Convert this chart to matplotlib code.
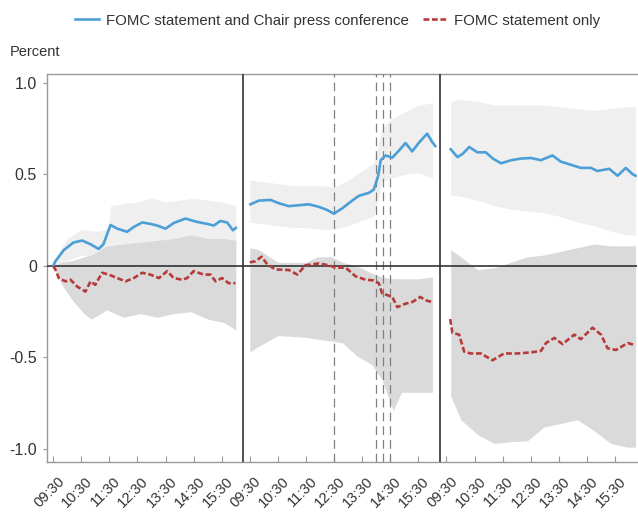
import numpy as np
import matplotlib
matplotlib.use("Agg")
import matplotlib.pyplot as plt
import matplotlib.transforms as mtransforms
from matplotlib.lines import Line2D

plt.rcParams['font.family'] = ['Liberation Sans', 'DejaVu Sans']

# hours after 09:30 in each trading day panel
hour_labels = ["09:30", "10:30", "11:30", "12:30", "13:30", "14:30", "15:30"]
event_times = [3.0, 4.5, 4.75, 5.0]   # 12:30, 14:00, 14:15, 14:30 on the FOMC day

# --- day before ---
p1_blue_t = [0.0, 0.08, 0.38, 0.72, 1.03, 1.33, 1.62, 1.79, 2.04, 2.28, 2.63, 2.87, 3.17, 3.46,
             3.70, 4.00, 4.29, 4.71, 5.12, 5.48, 5.72, 5.95, 6.19, 6.40, 6.50]
p1_blue = [0.0, 0.026, 0.087, 0.128, 0.139, 0.119, 0.093, 0.119, 0.224, 0.204, 0.187, 0.213, 0.238,
           0.230, 0.221, 0.204, 0.235, 0.259, 0.241, 0.230, 0.221, 0.246, 0.238, 0.195, 0.208]
p1_red_t = [0.0, 0.08, 0.2, 0.44, 0.62, 0.85, 1.15, 1.33, 1.5, 1.74, 1.98, 2.28, 2.57, 2.87, 3.17,
            3.46, 3.76, 4.06, 4.29, 4.59, 4.77, 5.0, 5.36, 5.6, 5.78, 6.01, 6.25, 6.49]
p1_red = [0.0, -0.02, -0.066, -0.084, -0.075, -0.112, -0.14, -0.084, -0.103, -0.037, -0.047, -0.066,
          -0.084, -0.066, -0.037, -0.047, -0.066, -0.028, -0.066, -0.075, -0.066, -0.028, -0.047,
          -0.047, -0.084, -0.066, -0.094, -0.094]
p1_light_t = [0.0, 0.5, 1.0, 1.5, 1.95, 2.05, 2.5, 3.0, 3.5, 4.0, 4.5, 5.0, 5.5, 6.0, 6.5]
p1_light_hi = [0.02, 0.15, 0.20, 0.19, 0.20, 0.33, 0.34, 0.35, 0.37, 0.35, 0.36, 0.37, 0.36, 0.35, 0.33]
p1_light_lo = [0.0, 0.03, 0.06, 0.05, 0.05, 0.12, 0.10, 0.11, 0.11, 0.10, 0.12, 0.12, 0.10, 0.12, 0.10]
p1_dark_t = [0.0, 0.3, 0.7, 1.1, 1.35, 1.6, 1.9, 2.5, 3.1, 3.7, 4.3, 4.9, 5.5, 6.1, 6.5]
p1_dark_hi = [0.0, 0.02, 0.03, 0.05, 0.06, 0.08, 0.11, 0.12, 0.13, 0.14, 0.15, 0.17, 0.15, 0.15, 0.14]
p1_dark_lo = [0.0, -0.10, -0.19, -0.26, -0.29, -0.27, -0.24, -0.28, -0.26, -0.28, -0.26, -0.25,
              -0.29, -0.31, -0.35]

# --- FOMC day ---
p2_blue_t = [0.02, 0.32, 0.74, 1.03, 1.39, 1.74, 2.10, 2.46, 2.75, 2.99, 3.29, 3.64, 3.88, 4.24,
             4.41, 4.57, 4.66, 4.83, 5.07, 5.30, 5.54, 5.78, 6.01, 6.31, 6.48, 6.60]
p2_blue = [0.337, 0.357, 0.361, 0.343, 0.327, 0.332, 0.337, 0.323, 0.306, 0.286, 0.315, 0.357, 0.383,
           0.400, 0.417, 0.493, 0.578, 0.604, 0.592, 0.629, 0.672, 0.626, 0.672, 0.723, 0.680, 0.655]
p2_red_t = [0.0, 0.2, 0.42, 0.62, 0.91, 1.39, 1.69, 1.98, 2.46, 2.81, 3.05, 3.41, 3.76, 4.12, 4.41,
            4.59, 4.71, 4.89, 5.07, 5.25, 5.54, 5.78, 6.07, 6.25, 6.48]
p2_red = [0.02, 0.026, 0.051, 0.009, -0.019, -0.022, -0.047, 0.004, 0.014, 0.004, -0.009, -0.009,
          -0.056, -0.075, -0.079, -0.094, -0.15, -0.159, -0.169, -0.225, -0.206, -0.197, -0.169,
          -0.187, -0.197]
p2_light_t = [0.0, 0.5, 1.0, 1.5, 2.0, 2.5, 3.0, 3.5, 4.0, 4.4, 4.6, 4.7, 5.0, 5.5, 6.0, 6.5]
p2_light_hi = [0.47, 0.46, 0.45, 0.44, 0.44, 0.44, 0.43, 0.47, 0.52, 0.56, 0.68, 0.75, 0.80, 0.84,
               0.88, 0.89]
p2_light_lo = [0.24, 0.23, 0.22, 0.21, 0.21, 0.20, 0.20, 0.22, 0.25, 0.27, 0.38, 0.46, 0.48, 0.50,
               0.51, 0.48]
p2_dark_t = [0.0, 0.3, 1.0, 2.0, 2.4, 2.9, 3.3, 3.8, 4.35, 4.7, 5.1, 5.4, 6.0, 6.5]
p2_dark_hi = [0.10, 0.09, 0.02, 0.02, 0.05, 0.05, 0.02, 0.0, -0.04, -0.06, -0.07, -0.07, -0.07, -0.06]
p2_dark_lo = [-0.47, -0.44, -0.38, -0.39, -0.40, -0.41, -0.42, -0.49, -0.54, -0.62, -0.79, -0.69,
              -0.69, -0.69]

# --- day after ---
p3_blue_t = [0.15, 0.39, 0.57, 0.81, 1.10, 1.40, 1.65, 1.94, 2.30, 2.65, 3.01, 3.36, 3.77, 4.07,
             4.43, 4.78, 5.14, 5.37, 5.79, 6.09, 6.38, 6.62, 6.73]
p3_blue = [0.638, 0.595, 0.612, 0.650, 0.621, 0.621, 0.587, 0.561, 0.578, 0.587, 0.590, 0.578, 0.604,
           0.570, 0.553, 0.536, 0.536, 0.519, 0.531, 0.493, 0.536, 0.502, 0.493]
p3_red_t = [0.13, 0.21, 0.45, 0.63, 0.86, 1.22, 1.64, 2.05, 2.53, 3.01, 3.36, 3.54, 3.84, 4.13,
            4.55, 4.78, 5.20, 5.50, 5.73, 6.03, 6.45, 6.69]
p3_red = [-0.29, -0.365, -0.375, -0.468, -0.478, -0.478, -0.515, -0.478, -0.478, -0.472, -0.464,
          -0.421, -0.393, -0.427, -0.375, -0.40, -0.337, -0.375, -0.449, -0.459, -0.421, -0.431]
p3_band_t = [0.15, 0.51, 1.10, 1.70, 2.29, 2.88, 3.47, 4.07, 4.66, 5.25, 5.85, 6.44, 6.73]
p3_light_hi = [0.90, 0.91, 0.90, 0.88, 0.88, 0.88, 0.88, 0.87, 0.86, 0.85, 0.86, 0.87, 0.87]
p3_light_lo = [0.39, 0.38, 0.36, 0.33, 0.31, 0.30, 0.29, 0.27, 0.24, 0.22, 0.19, 0.17, 0.17]
p3_dark_hi = [0.09, 0.05, -0.02, -0.01, 0.02, 0.05, 0.06, 0.08, 0.10, 0.12, 0.11, 0.11, 0.11]
p3_dark_lo = [-0.71, -0.84, -0.92, -0.97, -0.96, -0.955, -0.88, -0.86, -0.84, -0.90, -0.97, -0.99,
              -0.99]

blue = "#4c9fd6"
red = "#b53b3b"
light_grey = "#efefef"
dark_grey = "#dadada"

panel_len = 7.0   # each panel spans 7 hours on the x axis
start = 0.23      # 09:30 sits a little right of the panel edge


def xs(panel, t):
    return panel * panel_len + start + np.asarray(t)


fig = plt.figure(figsize=(6.38, 5.17), dpi=100)
ax = fig.add_axes([46.7 / 638, 55 / 517, 590 / 638, 388 / 517])

panels = [
    (p1_light_t, p1_light_lo, p1_light_hi, p1_dark_t, p1_dark_lo, p1_dark_hi,
     p1_blue_t, p1_blue, p1_red_t, p1_red),
    (p2_light_t, p2_light_lo, p2_light_hi, p2_dark_t, p2_dark_lo, p2_dark_hi,
     p2_blue_t, p2_blue, p2_red_t, p2_red),
    (p3_band_t, p3_light_lo, p3_light_hi, p3_band_t, p3_dark_lo, p3_dark_hi,
     p3_blue_t, p3_blue, p3_red_t, p3_red),
]

for i, (lt, llo, lhi, dt, dlo, dhi, bt, bv, rt, rv) in enumerate(panels):
    ax.fill_between(xs(i, lt), llo, lhi, color=light_grey, lw=0, zorder=1)
    ax.fill_between(xs(i, dt), dlo, dhi, color=dark_grey, lw=0, zorder=2)
    ax.plot(xs(i, bt), bv, color=blue, lw=1.9, zorder=5)
    ax.plot(xs(i, rt), rv, color=red, lw=1.9, dashes=(2.2, 1.0), zorder=5)

# event lines on the FOMC day
for t in event_times:
    ax.axvline(xs(1, t), color="#808080", lw=0.9, dashes=(7, 4), zorder=3)

# day separators and zero line
for b in [panel_len, 2 * panel_len]:
    ax.axvline(b, color="#333333", lw=1.2, zorder=4)
ax.axhline(0, color="#333333", lw=1.2, zorder=4)

ax.set_xlim(0, 3 * panel_len)
ax.set_ylim(-1.071, 1.049)

ticks = np.concatenate([xs(i, np.arange(7)) for i in range(3)])
ax.set_xticks(ticks)
ax.set_xticklabels(hour_labels * 3, rotation=45, ha="right", rotation_mode="anchor",
                   fontsize=10.5, color="#333333")
ax.tick_params(axis="x", direction="in", length=4, color="#999999", pad=9)
shift = mtransforms.ScaledTranslation(4 / 100, 0, fig.dpi_scale_trans)
for lab in ax.get_xticklabels():
    lab.set_transform(lab.get_transform() + shift)

ax.set_yticks([-1.0, -0.5, 0, 0.5, 1.0])
ax.set_yticklabels(["-1.0", "-0.5", "0", "0.5", "1.0"], fontsize=11.5, color="#333333")
ax.tick_params(axis="y", direction="out", length=3, color="#999999", pad=4)

for side in ["left", "top", "bottom"]:
    ax.spines[side].set_color("#999999")
    ax.spines[side].set_linewidth(1.0)
ax.spines["right"].set_visible(False)

fig.text(10 / 638, 1 - 52 / 517, "Percent", ha="left", va="center", fontsize=10.5, color="#333333")

handles = [Line2D([], [], color=blue, lw=1.9),
           Line2D([], [], color=red, lw=1.9, dashes=(2.2, 1.0))]
fig.legend(handles, ["FOMC statement and Chair press conference", "FOMC statement only"],
           loc="upper center", bbox_to_anchor=(0.529, 1.0), ncol=2, frameon=False,
           fontsize=10.8, handlelength=1.6, handletextpad=0.5, columnspacing=0.9,
           labelcolor="#333333")

fig.savefig("out.png", dpi=100)
